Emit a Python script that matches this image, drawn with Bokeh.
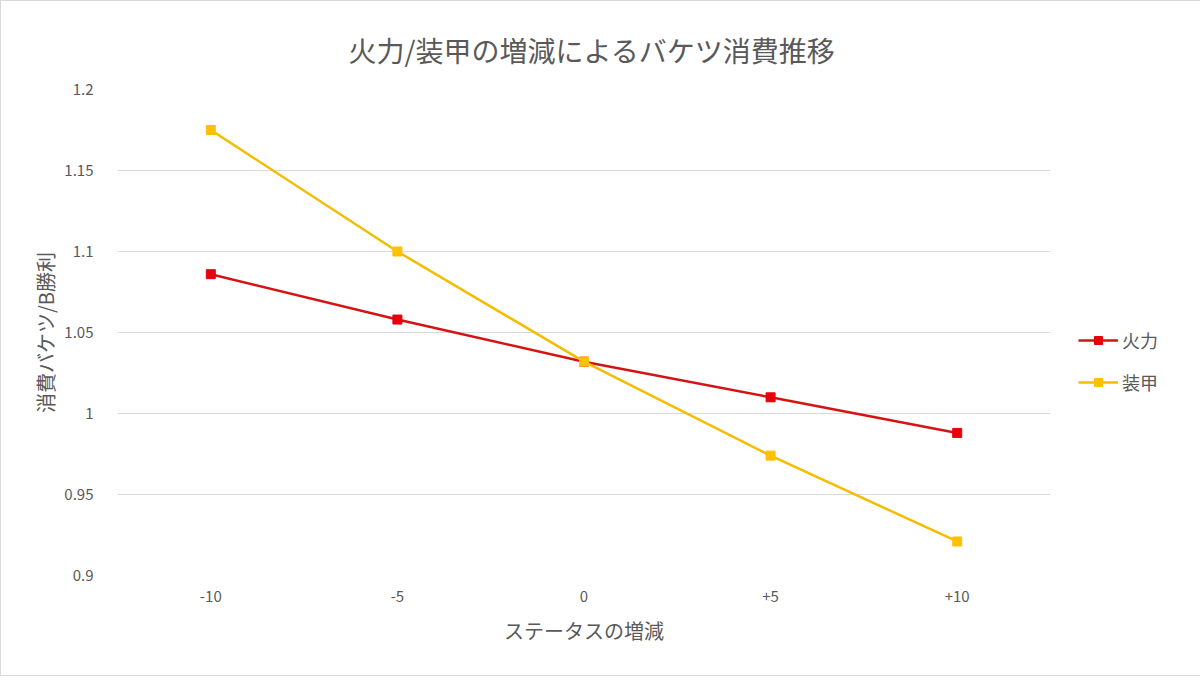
from bokeh.plotting import figure
from bokeh.models import FactorRange, Range1d, FixedTicker, Legend, LegendItem
from bokeh.embed import file_html
from bokeh.resources import INLINE

categories = ["-10", "-5", "0", "+5", "+10"]
firepower = [1.086, 1.058, 1.032, 1.010, 0.988]
armor = [1.175, 1.100, 1.032, 0.974, 0.921]
series_names = ["火力", "装甲"]
y_ticks = [0.9, 0.95, 1.0, 1.05, 1.1, 1.15, 1.2]
y_tick_labels = ["0.9", "0.95", "1", "1.05", "1.1", "1.15", "1.2"]

FONT = "Noto Sans CJK JP"
TXT = "#595959"

p = figure(frame_width=933, frame_height=486, output_backend="svg", toolbar_location=None,
           x_range=FactorRange(*categories, range_padding=0),
           y_range=Range1d(0.9, 1.2),
           title="火力/装甲の増減によるバケツ消費推移",
           min_border_left=116, min_border_right=130,
           min_border_top=88, min_border_bottom=100)
p.styles = {"border": "1px solid #d9d9d9"}

p.title.align = "left"
p.title.offset = 231
p.title.vertical_align = "top"
p.title.text_font = FONT
p.title.text_font_size = "28px"
p.title.text_font_style = "normal"
p.title.text_color = TXT
p.title.standoff = 36

p.outline_line_color = None
p.xgrid.grid_line_color = None
p.ygrid.grid_line_color = "#d9d9d9"
p.ygrid.grid_line_width = 1.2

p.yaxis.ticker = FixedTicker(ticks=y_ticks)
p.yaxis.major_label_overrides = {t: l for t, l in zip(y_ticks, y_tick_labels)}
for ax in (p.xaxis, p.yaxis):
    ax.axis_line_color = None
    ax.major_tick_line_color = None
    ax.minor_tick_line_color = None
    ax.major_label_text_font = FONT
    ax.major_label_text_font_size = "15px"
    ax.major_label_text_color = TXT
    ax.axis_label_text_font = FONT
    ax.axis_label_text_font_size = "20px"
    ax.axis_label_text_font_style = "normal"
    ax.axis_label_text_color = TXT
p.xaxis.axis_label = "ステータスの増減"
p.yaxis.axis_label = "消費バケツ/B勝利"
p.yaxis.major_label_standoff = 18
p.yaxis.axis_label_standoff = 1
p.xaxis.major_label_standoff = 9
p.xaxis.axis_label_standoff = 11

r1 = p.line(categories, firepower, line_color="#d41414", line_width=2.5)
m1 = p.scatter(categories, firepower, marker="square", size=9,
               fill_color="#e8000b", line_color="#e8000b")
r2 = p.line(categories, armor, line_color="#f5bc00", line_width=2.5)
m2 = p.scatter(categories, armor, marker="square", size=9,
               fill_color="#ffc000", line_color="#ffc000")

legend = Legend(items=[LegendItem(label=series_names[0], renderers=[r1, m1]),
                       LegendItem(label=series_names[1], renderers=[r2, m2])],
                location=(28, 180), border_line_color=None,
                background_fill_alpha=0,
                label_text_font=FONT, label_text_font_size="18px",
                label_text_color=TXT, glyph_width=40, glyph_height=20,
                spacing=16, padding=0, margin=0, label_standoff=4)
p.add_layout(legend, "right")

open("out.html", "w").write(file_html(p, INLINE))
